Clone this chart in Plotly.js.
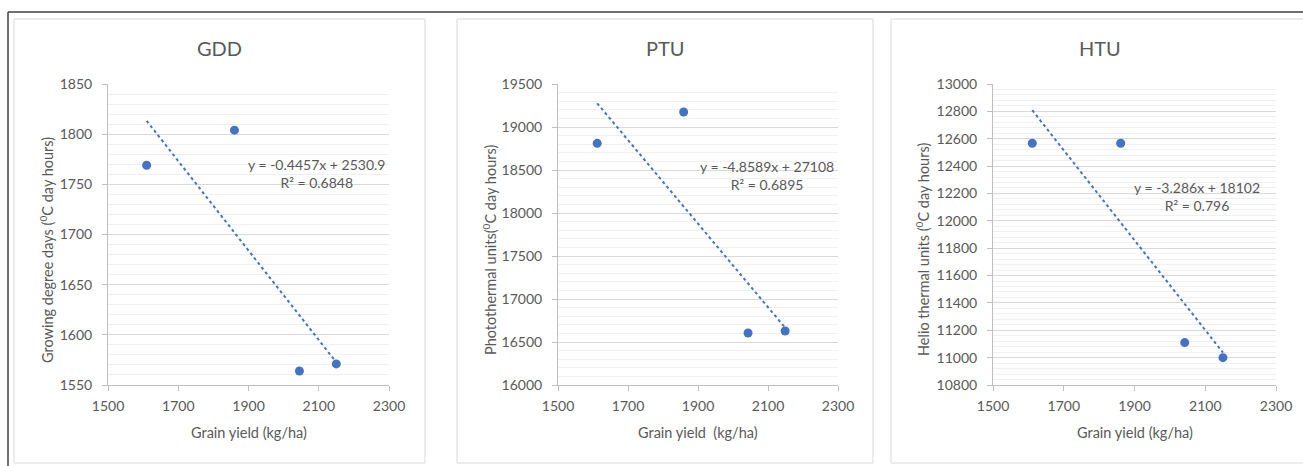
<!DOCTYPE html>
<html>
<head>
<meta charset="utf-8">
<script src="https://cdn.plot.ly/plotly-3.0.1.min.js"></script>
<style>html,body{margin:0;padding:0;background:#fff;}#chart{width:1303px;height:466px;}</style>
</head>
<body>
<div id="chart"></div>
<script>
// ---- Data ----
const panelTitles = ["GDD", "PTU", "HTU"];
const yAxisTitles = [
  "Growing degree days (<sup>0</sup>C day hours)",
  "Photothermal units(<sup>0</sup>C day hours)",
  "Helio thermal units (<sup>0</sup>C day hours)"
];
const xAxisTitles = ["Grain yield (kg/ha)", "Grain yield  (kg/ha)", "Grain yield (kg/ha)"];

const yieldGDD = [1610, 1860, 2045, 2150];
const gdd      = [1769, 1804, 1564, 1571];
const yieldPTU = [1612, 1859, 2043, 2149];
const ptu      = [18810, 19175, 16605, 16628];
const yieldHTU = [1611, 1861, 2042, 2150];
const htu      = [12567, 12567, 11110, 11000];

const slopes     = [-0.4457, -4.8589, -3.286];
const intercepts = [2530.9, 27108, 18102];
const equations  = ["y = -0.4457x + 2530.9", "y = -4.8589x + 27108", "y = -3.286x + 18102"];
const r2Labels   = ["R² = 0.6848", "R² = 0.6895", "R² = 0.796"];

const xRange = [1500, 2300];
const yRanges = [[1550, 1850], [16000, 19500], [10800, 13000]];
const yDticks = [50, 500, 200];
const yMinor  = [10, 100, 40];
const eqPos   = [[2095, 1761], [2098, 18436], [2076, 12176]];

// ---- Layout geometry (pixels) ----
const W = 1303, H = 466;
const px = v => v / W;
const py = v => 1 - v / H;
const plotX = [[108, 389], [558, 838], [993, 1276]];
const plotY = [84, 385];
const boxes = [[14, 425], [457, 873], [891, 1312]];

const FONT = "Lato, 'Open Sans', sans-serif";
const TXT = "#595959";
const BLUE = "#4472C4";

const xs = [yieldGDD, yieldPTU, yieldHTU];
const ys = [gdd, ptu, htu];

const traces = [];
const annotations = [];
const shapes = [];
const layout = {
  width: W, height: H,
  margin: {l: 0, r: 0, t: 0, b: 0},
  paper_bgcolor: "#fff", plot_bgcolor: "rgba(0,0,0,0)",
  showlegend: false,
  font: {family: FONT, color: TXT, size: 14},
  annotations: annotations,
  shapes: shapes
};

// outer frame lines
shapes.push({type: "line", xref: "paper", yref: "paper", x0: px(8), x1: px(1303), y0: py(12), y1: py(12),
  line: {color: "#404040", width: 1.5}, layer: "below"});
shapes.push({type: "line", xref: "paper", yref: "paper", x0: px(8), x1: px(8), y0: py(12), y1: py(466),
  line: {color: "#404040", width: 1.5}, layer: "below"});

for (let i = 0; i < 3; i++) {
  const sfx = i === 0 ? "" : String(i + 1);
  const xa = "x" + sfx, ya = "y" + sfx;

  // panel box
  shapes.push({type: "rect", xref: "paper", yref: "paper",
    x0: px(boxes[i][0]), x1: px(boxes[i][1]), y0: py(463), y1: py(19),
    line: {color: "#d9d9d9", width: 1}, fillcolor: "rgba(0,0,0,0)", layer: "below"});

  // scatter points
  traces.push({type: "scatter", mode: "markers", x: xs[i], y: ys[i], xaxis: xa, yaxis: ya,
    marker: {color: BLUE, size: 9}, hoverinfo: "skip"});

  // linear trendline from equation
  const xmin = Math.min(...xs[i]), xmax = Math.max(...xs[i]);
  traces.push({type: "scatter", mode: "lines", x: [xmin, xmax],
    y: [slopes[i] * xmin + intercepts[i], slopes[i] * xmax + intercepts[i]],
    xaxis: xa, yaxis: ya, line: {color: BLUE, width: 2, dash: "dot"}, hoverinfo: "skip"});

  layout["xaxis" + sfx] = {
    domain: [px(plotX[i][0]), px(plotX[i][1])], anchor: ya,
    range: xRange, tick0: 1500, dtick: 200, tickformat: "d", showgrid: false, zeroline: false,
    showline: true, linecolor: "#bfbfbf", linewidth: 1,
    ticks: "outside", ticklen: 5, tickcolor: "#bfbfbf", ticklabelstandoff: 3,
    tickfont: {family: FONT, size: 14, color: TXT}, fixedrange: true
  };
  layout["yaxis" + sfx] = {
    domain: [py(plotY[1]), py(plotY[0])], anchor: xa,
    range: yRanges[i], tick0: yRanges[i][0], dtick: yDticks[i], tickformat: "d",
    showgrid: true, gridcolor: "#d9d9d9", gridwidth: 1, zeroline: false,
    minor: {dtick: yMinor[i], tick0: yRanges[i][0], showgrid: true, gridcolor: "#f0f0f0", gridwidth: 1, ticks: ""},
    showline: true, linecolor: "#bfbfbf", linewidth: 1,
    ticks: "outside", ticklen: 5, tickcolor: "#bfbfbf", ticklabelstandoff: 7,
    tickfont: {family: FONT, size: 14, color: TXT}, fixedrange: true
  };

  // panel title
  annotations.push({xref: "paper", yref: "paper", x: px((boxes[i][0] + Math.min(boxes[i][1], 1309)) / 2), y: py(48),
    text: panelTitles[i], showarrow: false, xanchor: "center", yanchor: "middle",
    font: {family: FONT, size: 20, color: TXT}});
  // y axis title
  const yTitleX = [47, 490, 923][i];
  annotations.push({xref: "paper", yref: "paper", x: px(yTitleX), y: py(250), textangle: -90,
    text: yAxisTitles[i], showarrow: false, xanchor: "center", yanchor: "middle",
    font: {family: FONT, size: 14.5, color: TXT}});
  // x axis title
  annotations.push({xref: "paper", yref: "paper", x: px((plotX[i][0] + plotX[i][1]) / 2), y: py(432),
    text: xAxisTitles[i], showarrow: false, xanchor: "center", yanchor: "middle",
    font: {family: FONT, size: 14.5, color: TXT}});
  // equation
  annotations.push({xref: xa, yref: ya, x: eqPos[i][0], y: eqPos[i][1],
    text: equations[i] + "<br>" + r2Labels[i], showarrow: false, xanchor: "center", yanchor: "middle",
    align: "center", font: {family: FONT, size: 14, color: TXT}});
}

Plotly.newPlot("chart", traces, layout, {staticPlot: true, displayModeBar: false});
</script>
</body>
</html>
